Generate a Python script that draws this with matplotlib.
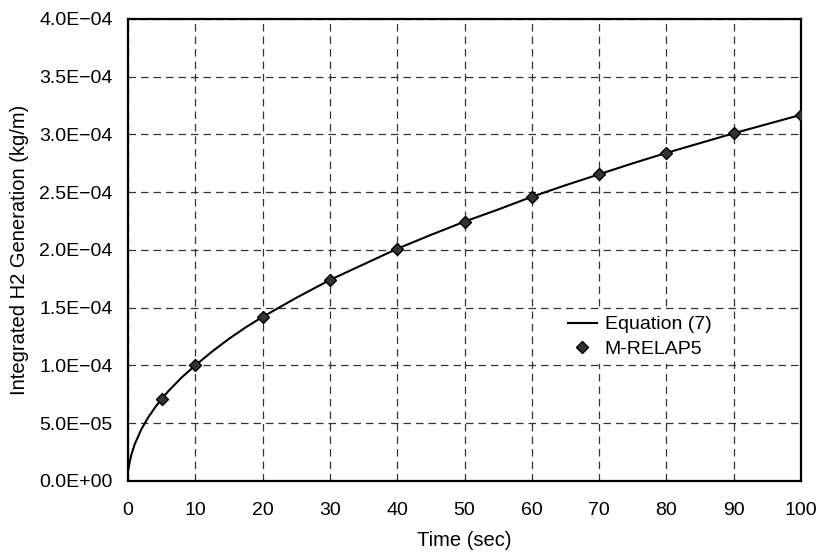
import matplotlib
matplotlib.use("Agg")
import matplotlib.pyplot as plt
from matplotlib.ticker import FixedLocator

plt.rcParams['font.family'] = ['Liberation Sans', 'DejaVu Sans']

# Equation (7): integrated hydrogen generation vs time
eq_time = [0, 0.25, 0.5, 1, 2, 3, 4, 5, 6, 8, 10, 12.5, 15, 17.5, 20, 25, 30, 35,
           40, 45, 50, 55, 60, 65, 70, 75, 80, 85, 90, 95, 100]
eq_h2 = [0.8e-5, 1.6e-5, 2.25e-5, 3.17e-5, 4.48e-5, 5.49e-5, 6.34e-5, 7.09e-5,
         7.77e-5, 8.97e-5, 1.0e-4, 1.12e-4, 1.23e-4, 1.33e-4, 1.42e-4, 1.585e-4,
         1.74e-4, 1.875e-4, 2.01e-4, 2.13e-4, 2.245e-4, 2.35e-4, 2.46e-4, 2.56e-4,
         2.655e-4, 2.75e-4, 2.84e-4, 2.925e-4, 3.01e-4, 3.09e-4, 3.17e-4]

# M-RELAP5 results
relap_time = [5, 10, 20, 30, 40, 50, 60, 70, 80, 90, 100]
relap_h2 = [7.1e-5, 1.0e-4, 1.42e-4, 1.74e-4, 2.01e-4, 2.245e-4, 2.46e-4,
            2.655e-4, 2.84e-4, 3.01e-4, 3.17e-4]

x_ticks = [0, 10, 20, 30, 40, 50, 60, 70, 80, 90, 100]
y_ticks = [0, 5e-5, 1e-4, 1.5e-4, 2e-4, 2.5e-4, 3e-4, 3.5e-4, 4e-4]
y_tick_labels = ["0.0E+00", "5.0E\u221205", "1.0E\u221204", "1.5E\u221204", "2.0E\u221204",
                 "2.5E\u221204", "3.0E\u221204", "3.5E\u221204", "4.0E\u221204"]

fig = plt.figure(figsize=(8.2, 5.56), dpi=100)
ax = fig.add_axes([0.156, 0.135, 0.821, 0.831])

ax.plot(eq_time, eq_h2, color='black', lw=1.5, label='Equation (7)', zorder=3)
ax.plot(relap_time, relap_h2, linestyle='none', marker='D', markersize=6,
        markerfacecolor='#333333', markeredgecolor='black', markeredgewidth=1.0,
        label='M-RELAP5', zorder=4)

ax.set_xlim(0, 100)
ax.set_ylim(0, 4e-4)
ax.xaxis.set_major_locator(FixedLocator(x_ticks))
ax.yaxis.set_major_locator(FixedLocator(y_ticks))
ax.set_yticklabels(y_tick_labels)
ax.tick_params(axis='both', which='both', length=0, labelsize=14, colors='black')
ax.tick_params(axis='y', pad=11)
ax.tick_params(axis='x', pad=15)

ax.grid(True, color='#333333', linestyle=(0, (6, 4)), linewidth=0.9)
ax.set_axisbelow(True)
for sp in ax.spines.values():
    sp.set_linewidth(1.6)
    sp.set_color('black')

ax.set_xlabel('Time (sec)', fontsize=14.5, labelpad=9)
ax.set_ylabel('Integrated H2 Generation (kg/m)', fontsize=14.5, labelpad=7)

leg = ax.legend(loc='center left', bbox_to_anchor=(0.63, 0.312), fontsize=14,
                frameon=True, fancybox=False, framealpha=1, edgecolor='none',
                facecolor='white', handlelength=1.5, handletextpad=0.4,
                borderpad=0.3, labelspacing=0.35)

fig.savefig('out.png', dpi=100)
